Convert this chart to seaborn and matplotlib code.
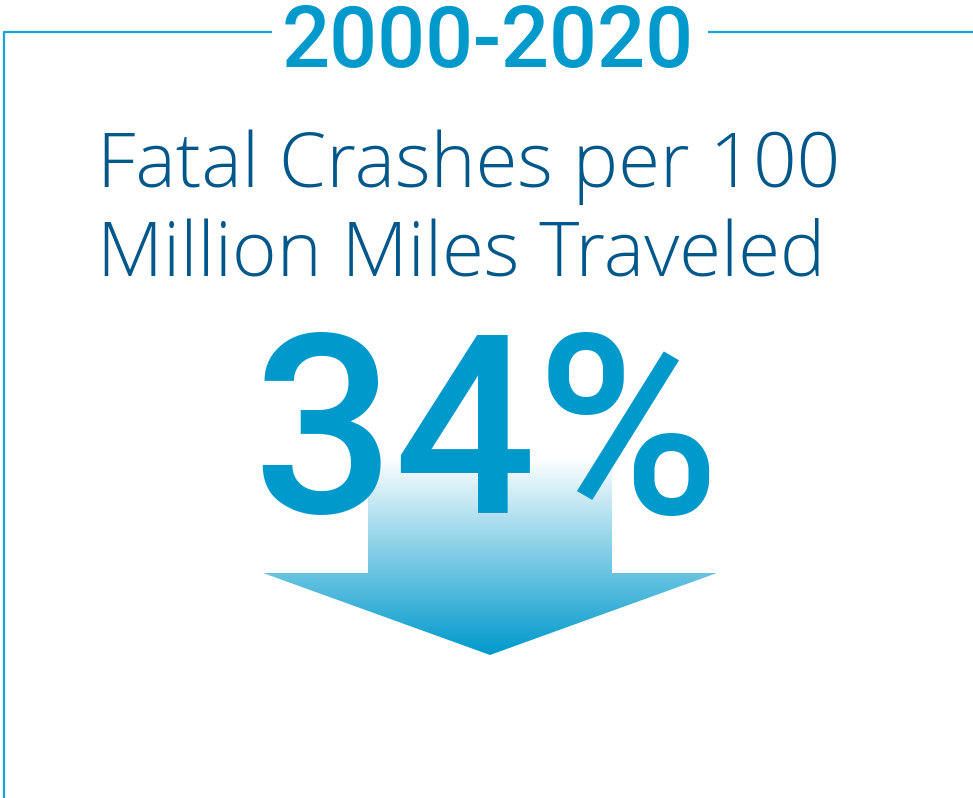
import numpy as np
import matplotlib.pyplot as plt
import seaborn as sns
from matplotlib.patches import Polygon
from matplotlib.colors import LinearSegmentedColormap

# content of the infographic
period = "2000-2020"
metric_lines = ["Fatal Crashes per 100", "Million Miles Traveled"]
change_pct = 34

sns.set_theme(style="white")
plt.rcParams['font.family'] = ['Roboto', 'DejaVu Sans']

W, H = 973, 798
fig = plt.figure(figsize=(W / 100, H / 100), dpi=100)
ax = fig.add_axes([0, 0, 1, 1])
ax.set_xlim(0, W)
ax.set_ylim(H, 0)
ax.axis('off')

blue = '#0099cc'
dark_blue = '#00578a'
line_blue = '#1ba1d8'

# frame lines: top split around the title, left side down to the bottom
ax.plot([4, 4, 272], [H, 32, 32], color=line_blue, lw=1.6, solid_capstyle='butt')
ax.plot([708, W], [32, 32], color=line_blue, lw=1.6, solid_capstyle='butt')

# title
ax.text(488, 67, period, ha='center', va='baseline', fontsize=61,
        fontweight='medium', color=blue)

# metric description, left aligned
for txt, y in zip(metric_lines, [187, 275]):
    ax.text(97, y, txt, ha='left', va='baseline', fontsize=55,
            fontweight='light', color=dark_blue,
            family=['Open Sans', 'DejaVu Sans'])

# gradient down arrow behind the number
arrow_pts = [(368, 457), (612, 457), (612, 573), (717, 573),
             (490, 655), (263, 573), (368, 573)]
arrow = Polygon(arrow_pts, closed=True, facecolor='none', edgecolor='none')
ax.add_patch(arrow)
cmap = LinearSegmentedColormap.from_list('fade', ['#ffffff', blue])
grad = np.linspace(0, 1, 256).reshape(-1, 1)
im = ax.imshow(grad, cmap=cmap, extent=[263, 717, 655, 457], aspect='auto',
               origin='upper', zorder=1, interpolation='bilinear')
im.set_clip_path(arrow)
ax.set_xlim(0, W)
ax.set_ylim(H, 0)

# big number
ax.text(486, 513, f"{change_pct}%", ha='center', va='baseline', fontsize=180,
        fontweight='medium', color=blue, zorder=3)

fig.savefig('out.png', dpi=100, facecolor='white')
